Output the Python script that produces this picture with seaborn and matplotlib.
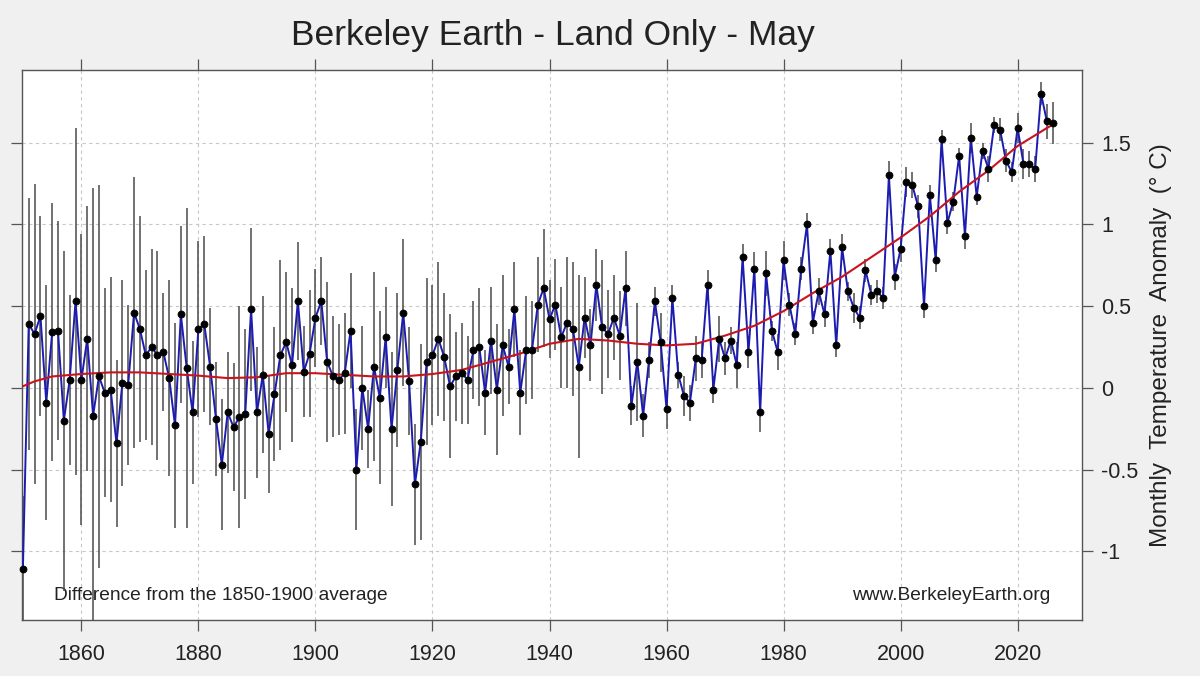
import matplotlib
matplotlib.use("Agg")
import matplotlib.pyplot as plt
import numpy as np
import pandas as pd
import seaborn as sns

# May land-only anomalies, 1850-2026 (deg C vs 1850-1900)
first_year = 1850
anomaly = [
    -1.11, 0.39, 0.33, 0.44, -0.09, 0.34, 0.35, -0.20, 0.05, 0.53,
    0.05, 0.30, -0.17, 0.07, -0.03, -0.01, -0.34, 0.03, 0.02, 0.46,
    0.36, 0.20, 0.25, 0.20, 0.22, 0.06, -0.23, 0.45, 0.12, -0.15,
    0.36, 0.39, 0.13, -0.19, -0.47, -0.15, -0.24, -0.18, -0.16, 0.48,
    -0.15, 0.08, -0.28, -0.04, 0.20, 0.28, 0.14, 0.53, 0.10, 0.21,
    0.43, 0.53, 0.16, 0.07, 0.05, 0.09, 0.35, -0.50, 0.00, -0.25,
    0.13, -0.06, 0.31, -0.25, 0.11, 0.46, 0.04, -0.59, -0.33, 0.16,
    0.20, 0.30, 0.19, 0.01, 0.07, 0.09, 0.05, 0.23, 0.25, -0.03,
    0.29, -0.01, 0.26, 0.13, 0.48, -0.03, 0.23, 0.23, 0.51, 0.61,
    0.42, 0.51, 0.31, 0.40, 0.36, 0.13, 0.43, 0.26, 0.63, 0.37,
    0.33, 0.43, 0.32, 0.61, -0.11, 0.16, -0.17, 0.17, 0.53, 0.28,
    -0.13, 0.55, 0.08, -0.05, -0.09, 0.18, 0.17, 0.63, -0.01, 0.30,
    0.18, 0.29, 0.14, 0.80, 0.22, 0.73, -0.15, 0.70, 0.35, 0.22,
    0.78, 0.51, 0.33, 0.73, 1.00, 0.40, 0.59, 0.45, 0.84, 0.26,
    0.86, 0.59, 0.49, 0.43, 0.72, 0.57, 0.59, 0.55, 1.30, 0.68,
    0.85, 1.26, 1.24, 1.11, 0.50, 1.18, 0.78, 1.52, 1.01, 1.14,
    1.42, 0.93, 1.53, 1.17, 1.45, 1.34, 1.61, 1.58, 1.39, 1.32,
    1.59, 1.37, 1.37, 1.34, 1.80, 1.63, 1.62,
]
# half-width of the uncertainty bars
uncertainty = [
    0.45, 0.77, 0.92, 0.61, 0.72, 0.79, 0.67, 1.04, 0.52, 1.06,
    0.89, 0.81, 1.39, 1.17, 0.64, 0.69, 0.51, 0.63, 0.49, 0.83,
    0.69, 0.52, 0.60, 0.64, 0.36, 0.60, 0.63, 0.54, 0.98, 0.44,
    0.54, 0.54, 0.36, 0.35, 0.40, 0.37, 0.39, 0.68, 0.52, 0.50,
    0.40, 0.48, 0.36, 0.41, 0.58, 0.43, 0.47, 0.36, 0.28, 0.39,
    0.30, 0.27, 0.49, 0.37, 0.34, 0.37, 0.35, 0.37, 0.38, 0.24,
    0.58, 0.53, 0.31, 0.47, 0.47, 0.45, 0.33, 0.37, 0.60, 0.51,
    0.43, 0.47, 0.39, 0.44, 0.27, 0.31, 0.27, 0.30, 0.36, 0.26,
    0.33, 0.40, 0.43, 0.23, 0.29, 0.26, 0.33, 0.30, 0.29, 0.36,
    0.24, 0.28, 0.31, 0.40, 0.41, 0.56, 0.25, 0.22, 0.22, 0.41,
    0.27, 0.26, 0.27, 0.23, 0.12, 0.36, 0.13, 0.11, 0.09, 0.18,
    0.12, 0.08, 0.08, 0.12, 0.11, 0.14, 0.11, 0.09, 0.08, 0.14,
    0.10, 0.08, 0.14, 0.08, 0.10, 0.10, 0.12, 0.14, 0.06, 0.11,
    0.12, 0.07, 0.07, 0.07, 0.07, 0.07, 0.08, 0.08, 0.07, 0.07,
    0.08, 0.06, 0.09, 0.07, 0.07, 0.06, 0.07, 0.07, 0.09, 0.08,
    0.08, 0.09, 0.08, 0.07, 0.07, 0.06, 0.07, 0.06, 0.07, 0.06,
    0.05, 0.08, 0.09, 0.05, 0.05, 0.08, 0.05, 0.07, 0.07, 0.06,
    0.09, 0.09, 0.08, 0.08, 0.07, 0.11, 0.13,
]
smooth_years = [1850, 1852, 1855, 1860, 1865, 1870, 1875, 1880, 1885, 1890,
                1895, 1900, 1905, 1910, 1915, 1920, 1925, 1930, 1935, 1940,
                1945, 1950, 1955, 1960, 1965, 1970, 1975, 1980, 1985, 1990,
                1995, 2000, 2005, 2010, 2015, 2020, 2025, 2026]
smooth_vals = [0.01, 0.04, 0.07, 0.085, 0.095, 0.095, 0.085, 0.075, 0.06, 0.065,
               0.09, 0.09, 0.08, 0.07, 0.07, 0.085, 0.11, 0.16, 0.21, 0.27,
               0.30, 0.29, 0.27, 0.26, 0.27, 0.32, 0.38, 0.47, 0.58, 0.68,
               0.80, 0.92, 1.05, 1.20, 1.33, 1.48, 1.59, 1.61]

x_ticks = [1860, 1880, 1900, 1920, 1940, 1960, 1980, 2000, 2020]
y_ticks = [-1, -0.5, 0, 0.5, 1, 1.5]

df = pd.DataFrame({'year': np.arange(first_year, first_year + len(anomaly)),
                   'anomaly': anomaly, 'unc': uncertainty})
trend = pd.DataFrame({'year': smooth_years, 'value': smooth_vals})

sns.set_style("whitegrid")
plt.rcParams['font.family'] = ['Liberation Sans', 'DejaVu Sans']
plt.rcParams['axes.unicode_minus'] = False

fig = plt.figure(figsize=(12, 6.76), dpi=100)
fig.patch.set_facecolor('#f0f0f0')
ax = fig.add_axes([22 / 1200, 1 - 620 / 676, 1060 / 1200, 550 / 676])
ax.set_facecolor('white')

ax.vlines(df['year'], df['anomaly'] - df['unc'], df['anomaly'] + df['unc'],
          color='#4a4a4a', linewidth=1.1, zorder=2)
sns.lineplot(data=df, x='year', y='anomaly', color='#1c1cb0', linewidth=1.4, ax=ax, zorder=3)
sns.lineplot(data=trend, x='year', y='value', color='#c8141e', linewidth=1.5, ax=ax, zorder=4)
sns.scatterplot(data=df, x='year', y='anomaly', color='black', s=26, edgecolor='black',
                linewidth=0.5, ax=ax, zorder=5, clip_on=False)

ax.set_xlim(1849.85, 2031)
ax.set_ylim(-1.42, 1.945)
ax.set_xticks(x_ticks)
ax.set_yticks(y_ticks)
ax.set_yticklabels(['%g' % v for v in y_ticks])

ax.grid(True, color='#c8c8c8', linestyle=(0, (3, 3)), linewidth=0.8)
for s in ax.spines.values():
    s.set_color('#555555')
    s.set_linewidth(1.0)
ax.tick_params(which='both', direction='out', length=8, width=0.9, color='#555555',
               top=True, bottom=True, left=True, right=True,
               labelleft=False, labelright=True, labelsize=15.5, labelcolor='#222222', pad=6)
ax.tick_params(axis='x', pad=9)

ax.set_xlabel('')
ax.yaxis.set_label_position('right')
ax.set_ylabel('Monthly  Temperature  Anomaly  (° C)', fontsize=17.5, color='#222222', labelpad=8)

fig.text(553 / 1200, 1 - 35 / 676, 'Berkeley Earth - Land Only - May', fontsize=25.5,
         ha='center', va='center', color='#222222')
ax.text(0.03, 0.045, 'Difference from the 1850-1900 average', transform=ax.transAxes,
        fontsize=13.8, ha='left', va='center', color='#222222', zorder=1)
ax.text(0.97, 0.045, 'www.BerkeleyEarth.org', transform=ax.transAxes,
        fontsize=13.8, ha='right', va='center', color='#222222', zorder=1)

if ax.get_legend():
    ax.get_legend().remove()

plt.savefig('out.png', dpi=100, facecolor=fig.get_facecolor())
